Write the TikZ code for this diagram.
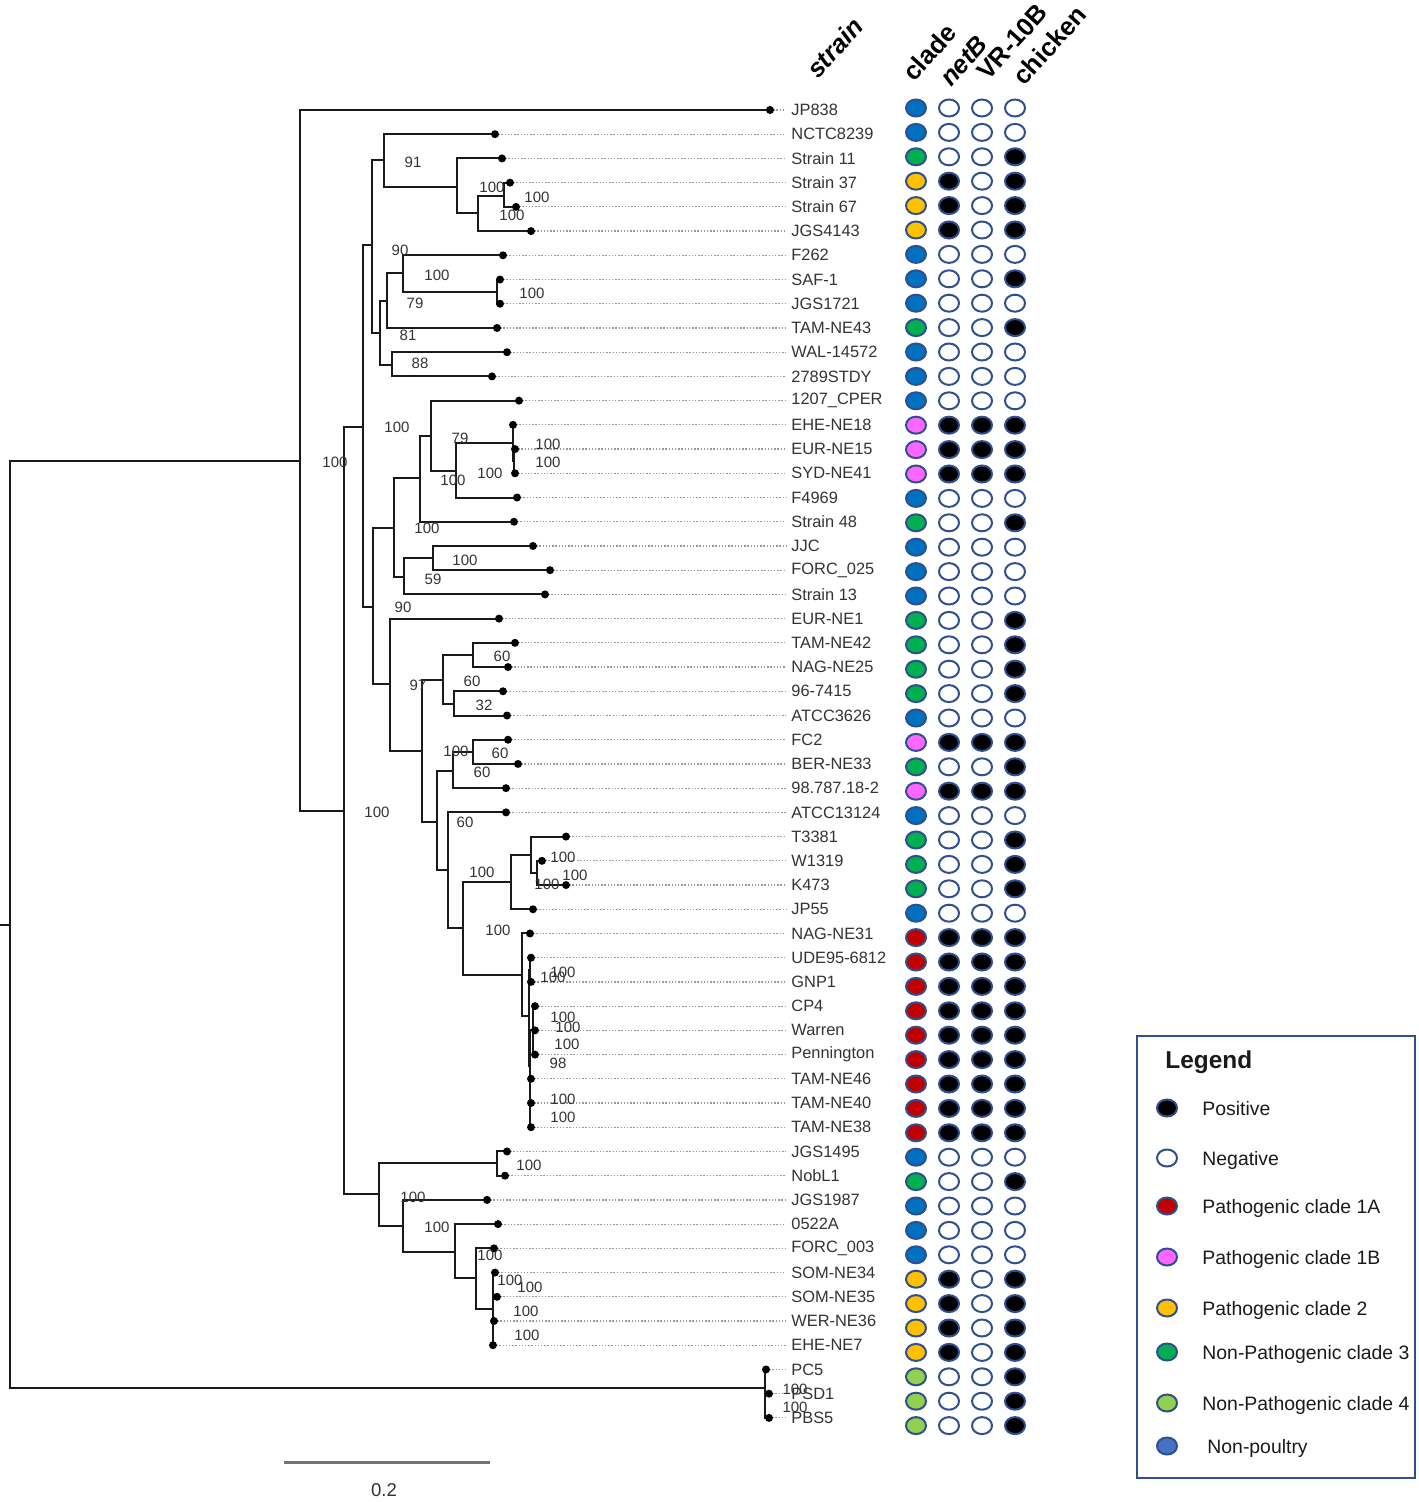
\documentclass[tikz,border=0pt]{standalone}
\usepackage{fontspec}
\setmainfont{Liberation Sans}
\usetikzlibrary{shapes.geometric}
\definecolor{phyNP}{HTML}{0070C0}
\definecolor{phyC3}{HTML}{00B050}
\definecolor{phyC2}{HTML}{FFC000}
\definecolor{phyC1B}{HTML}{FF66FF}
\definecolor{phyC1A}{HTML}{C00000}
\definecolor{phyC4}{HTML}{92D050}
\definecolor{phyLeg}{HTML}{4472C4}
\definecolor{phyRim}{HTML}{2F4F8F}
\definecolor{phyInk}{HTML}{1A1A1A}
\definecolor{phyText}{HTML}{333333}
\colorlet{pos}{black}
\colorlet{neg}{white}
\tikzset{
  phy branch/.style={draw=phyInk, line width=1pt},
  phy leader/.style={draw=black!40, line width=0.6pt, dash pattern=on 0.7pt off 0.9pt},
  phy tip/.style={fill=black},
  phy taxon/.style={anchor=west, inner sep=2.5pt, font=\fontsize{8.2}{9}\selectfont, text=phyText},
  phy boot/.style={inner sep=0pt, font=\fontsize{7.5}{8}\selectfont, text=phyText},
  phy mark/.style={ellipse, draw=phyRim, line width=1pt, minimum width=10pt, minimum height=8.5pt, inner sep=0pt},
  phy head/.style={rotate=48, anchor=base west, inner sep=0pt, font=\fontsize{12.8}{13}\selectfont\bfseries},
  phy frame/.style={draw=phyRim, line width=1pt},
  phy key/.style={anchor=base west, inner sep=0pt, font=\fontsize{9.7}{11}\selectfont, text=phyInk},
}
\begin{document}
\begin{tikzpicture}[x=0.5pt,y=-0.5pt]
  \useasboundingbox (0,0) rectangle (1418,1502);
  % column heads
  \node[phy head] (hStrain) at (818,80) {\itshape strain};
  \node[phy head] (hClade) at (914,83) {clade};
  \node[phy head] (hNetB) at (951,88) {\itshape netB};
  \node[phy head] (hVR) at (988,82) {VR-10B};
  \node[phy head] (hChick) at (1024,87) {chicken};
  % strains: name/tip x/clade/netB/VR-10B/chicken
  \foreach \nm/\tx/\cl/\nb/\vr/\ch [count=\i from 0] in {
    JP838/770/phyNP/neg/neg/neg, NCTC8239/495/phyNP/neg/neg/neg, Strain 11/502/phyC3/neg/neg/pos,
    Strain 37/510/phyC2/pos/neg/pos, Strain 67/516/phyC2/pos/neg/pos, JGS4143/531/phyC2/pos/neg/pos,
    F262/503/phyNP/neg/neg/neg, SAF-1/500/phyNP/neg/neg/pos, JGS1721/500/phyNP/neg/neg/neg,
    TAM-NE43/497/phyC3/neg/neg/pos, WAL-14572/507/phyNP/neg/neg/neg, 2789STDY/492/phyNP/neg/neg/neg,
    1207\_CPER/519/phyNP/neg/neg/neg, EHE-NE18/513/phyC1B/pos/pos/pos, EUR-NE15/515/phyC1B/pos/pos/pos,
    SYD-NE41/515/phyC1B/pos/pos/pos, F4969/517/phyNP/neg/neg/neg, Strain 48/514/phyC3/neg/neg/pos,
    JJC/533/phyNP/neg/neg/neg, FORC\_025/550/phyNP/neg/neg/neg, Strain 13/545/phyNP/neg/neg/neg,
    EUR-NE1/499/phyC3/neg/neg/pos, TAM-NE42/515/phyC3/neg/neg/pos, NAG-NE25/508/phyC3/neg/neg/pos,
    96-7415/503/phyC3/neg/neg/pos, ATCC3626/507/phyNP/neg/neg/neg, FC2/508/phyC1B/pos/pos/pos,
    BER-NE33/518/phyC3/neg/neg/pos, 98.787.18-2/506/phyC1B/pos/pos/pos, ATCC13124/506/phyNP/neg/neg/neg,
    T3381/566/phyC3/neg/neg/pos, W1319/542/phyC3/neg/neg/pos, K473/566/phyC3/neg/neg/pos,
    JP55/533/phyNP/neg/neg/neg, NAG-NE31/530/phyC1A/pos/pos/pos, UDE95-6812/531/phyC1A/pos/pos/pos,
    GNP1/531/phyC1A/pos/pos/pos, CP4/535/phyC1A/pos/pos/pos, Warren/535/phyC1A/pos/pos/pos,
    Pennington/535/phyC1A/pos/pos/pos, TAM-NE46/531/phyC1A/pos/pos/pos, TAM-NE40/531/phyC1A/pos/pos/pos,
    TAM-NE38/531/phyC1A/pos/pos/pos, JGS1495/507/phyNP/neg/neg/neg, NobL1/505/phyC3/neg/neg/pos,
    JGS1987/487/phyNP/neg/neg/neg, 0522A/498/phyNP/neg/neg/neg, FORC\_003/494/phyNP/neg/neg/neg,
    SOM-NE34/495/phyC2/pos/neg/pos, SOM-NE35/497/phyC2/pos/neg/pos, WER-NE36/494/phyC2/pos/neg/pos,
    EHE-NE7/493/phyC2/pos/neg/pos, PC5/766/phyC4/neg/neg/pos, PSD1/769/phyC4/neg/neg/pos,
    PBS5/769/phyC4/neg/neg/pos}{
    \pgfmathsetmacro\ry{110+24.22*\i}
    \pgfmathsetmacro\cy{108+24.4*\i}
    \coordinate (t\i) at (\tx,\ry);
    \node[phy taxon] (lab\i) at (786,\ry) {\nm};
    \draw[phy leader] (t\i) -- (lab\i.west);
    \node[phy mark, fill=\cl] (cl\i) at (916,\cy) {};
    \node[phy mark, fill=\nb] (nb\i) at (949,\cy) {};
    \node[phy mark, fill=\vr] (vr\i) at (982,\cy) {};
    \node[phy mark, fill=\ch] (ch\i) at (1015,\cy) {};
  }
  % inner nodes of the tree
  \foreach \n/\x/\y in {stub/0/925, root/10/925, A/300/461, B/344/811, C/363/427, D/372/245,
    F/384/160, H/457/187, I/478/213, J/504/196, G/380/333, K/387/301, M/403/273, N/497/292,
    L/392/365, E/373/607, O/394/528, Q/420/478, R/431/436, S/456/471, T/513/443, T2/514/461,
    U/404/577, V/433/558, P/390/684, W/422/751, X/443/680, Y/473/655, Z/454/704, AA/437/822,
    AB/453/771, AC/473/752, AD/448/870, AE/463/928, AF/511/882, AH/531/855, AI/537/873,
    AG/522/975, AJ/529/1016, AK/530/970, AL/530/1066, CPW/533/1030, TT/530/1103,
    AM/379/1194, AN/497/1163, AO/403/1226, AP/455/1252, AQ/476/1278, AR/493/1309, PP/765/1388}
    \coordinate (\n) at (\x,\y);
  \draw[phy branch] (stub) -- (root);
  \foreach \p/\c in {root/A, root/PP, A/t0, A/B, B/C, B/AM, C/D, C/E, D/F, D/G, F/t1, F/H,
    H/t2, H/I, I/J, I/t5, J/t3, J/t4, G/K, G/L, K/M, K/t9, M/t6, M/N, N/t7, N/t8, L/t10, L/t11,
    E/O, E/P, O/Q, O/U, Q/R, Q/t17, R/t12, R/S, S/T, S/t16, T/t13, T/T2, T2/t14, T2/t15,
    U/V, U/t20, V/t18, V/t19, P/t21, P/W, W/X, W/AA, X/Y, X/Z, Y/t22, Y/t23, Z/t24, Z/t25,
    AA/AB, AA/AD, AB/AC, AB/t28, AC/t26, AC/t27, AD/t29, AD/AE, AE/AF, AE/AG, AF/AH, AF/t33,
    AH/t30, AH/AI, AI/t31, AI/t32, AG/t34, AG/AJ, AJ/AK, AJ/AL, AK/t35, AK/t36, AL/CPW, AL/TT,
    CPW/t37, CPW/t38, CPW/t39, TT/t40, TT/t41, TT/t42, AM/AN, AM/AO, AN/t43, AN/t44,
    AO/t45, AO/AP, AP/t46, AP/AQ, AQ/t47, AQ/AR, AR/t48, AR/t49, AR/t50, AR/t51,
    PP/t52, PP/t53, PP/t54}
    \draw[phy branch] (\p) |- (\c);
  \foreach \i in {0,...,54}{\fill[phy tip] (t\i) circle (2pt);}
  % bootstrap values
  \foreach \bx/\by/\bv [count=\b] in {413/162/91, 492/187/100, 537/197/100, 512/215/100,
    400/250/90, 437/275/100, 415/303/79, 532/293/100, 408/335/81, 420/363/88, 397/427/100,
    335/462/100, 460/438/79, 548/444/100, 548/462/100, 490/473/100, 453/480/100, 427/528/100,
    465/560/100, 433/579/59, 403/607/90, 502/656/60, 472/681/60, 418/685/97, 484/705/32,
    456/751/100, 500/753/60, 482/772/60, 465/822/60, 377/812/100, 482/872/100, 563/857/100,
    575/875/100, 547/884/100, 498/930/100, 563/972/100, 553/977/100, 563/1017/100,
    568/1027/100, 567/1044/100, 558/1063/98, 563/1099/100, 563/1117/100, 529/1165/100,
    413/1197/100, 437/1227/100, 490/1255/100, 510/1280/100, 530/1287/100, 526/1311/100,
    527/1335/100, 795/1389/100, 795/1407/100}
    \node[phy boot] (bs\b) at (\bx,\by) {\bv};
  % scale bar
  \draw[draw=black!55, line width=1.5pt] (284,1462) -- (490,1462);
  \node[phy boot, font=\fontsize{9.3}{10}\selectfont] (scale) at (384,1490) {0.2};
  % legend
  \draw[phy frame] (1137,1036) rectangle (1415,1478);
  \node[phy key, font=\fontsize{12.2}{13}\selectfont\bfseries] (legTitle) at (1165,1068) {Legend};
  \foreach \ly/\lx/\lc/\lt [count=\k] in {1108/1202/pos/Positive, 1158/1202/neg/Negative,
    1206/1202/phyC1A/Pathogenic clade 1A, 1257/1202/phyC1B/Pathogenic clade 1B,
    1308/1202/phyC2/Pathogenic clade 2, 1352/1202/phyC3/Non-Pathogenic clade 3,
    1403/1202/phyC4/Non-Pathogenic clade 4, 1446/1207/phyLeg/Non-poultry}{
    \node[phy mark, fill=\lc] (leg\k) at (1167,\ly) {};
    \node[phy key] (legText\k) at (\lx,\ly+7) {\lt};
  }
\end{tikzpicture}
\end{document}
